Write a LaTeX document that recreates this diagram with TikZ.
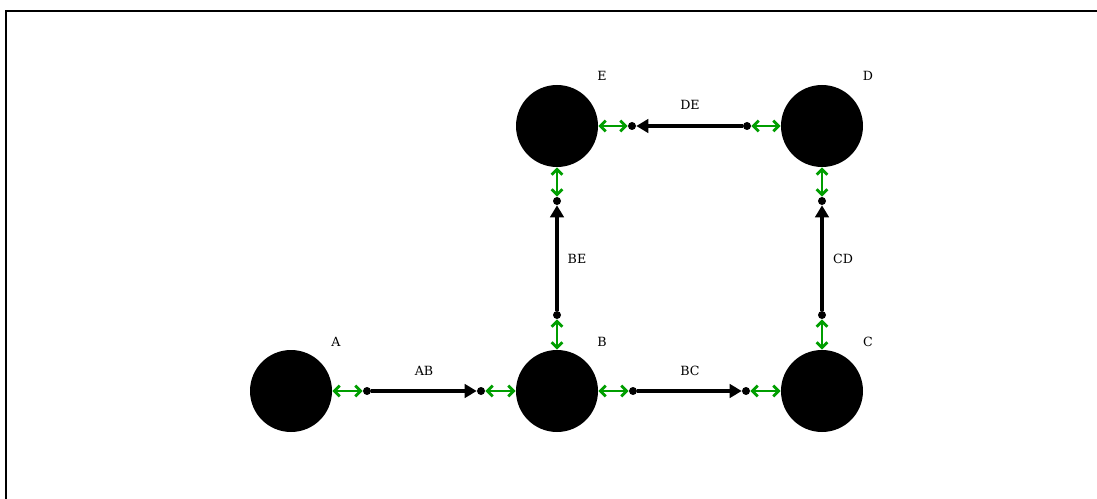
\documentclass[tikz,border=0pt]{standalone}
\usepackage{tikz}
\usepackage{fontspec}
\setmainfont{DejaVu Serif}
\usetikzlibrary{arrows.meta,positioning,calc}
\definecolor{linkgreen}{RGB}{0,158,0}
\tikzset{
    station/.style={circle, fill=black, minimum size=61.5pt, inner sep=0pt},
    port/.style={circle, fill=black, minimum size=6pt, inner sep=0pt},
    tag/.style={font=\fontsize{9.5}{11}\selectfont, inner sep=1pt},
    link/.style={line width=3.3pt, -{Triangle[length=9pt,width=10pt]}},
    bond/.style={draw=linkgreen, line width=2.2pt,
                 {Straight Barb[length=4pt,width=8pt]}-{Straight Barb[length=4pt,width=8pt]}},
}

\begin{document}
\begin{tikzpicture}[x=0.75pt, y=-0.75pt]
    \useasboundingbox (0,0) rectangle (1097,499);
    \draw[line width=1pt] (6,499) -- (6,11) -- (1097,11);

    % stations
    \node[station] (A) at (291,391) {};
    \node[station] (B) at (557,391) {};
    \node[station] (C) at (822,391) {};
    \node[station] (D) at (822,126) {};
    \node[station] (E) at (557,126) {};
    \node[tag] (tA) at (336,342) {A};
    \node[tag] (tB) at (602,342) {B};
    \node[tag] (tC) at (868,342) {C};
    \node[tag] (tD) at (868,76) {D};
    \node[tag] (tE) at (602,76) {E};

    % ports
    \node[port] (ab1) at (367,391) {};
    \node[port] (ab2) at (481,391) {};
    \node[port] (bc1) at (633,391) {};
    \node[port] (bc2) at (746,391) {};
    \node[port] (be1) at (557,315) {};
    \node[port] (be2) at (557,201) {};
    \node[port] (cd1) at (822,315) {};
    \node[port] (cd2) at (822,201) {};
    \node[port] (de1) at (747,126) {};
    \node[port] (de2) at (632,126) {};

    % links
    \draw[link] (ab1) -- (ab2);
    \draw[link] (bc1) -- (bc2);
    \draw[link] (be1) -- (be2);
    \draw[link] (cd1) -- (cd2);
    \draw[link] (de1) -- (de2);
    \node[tag] (tAB) at (424,371) {AB};
    \node[tag] (tBC) at (690,371) {BC};
    \node[tag] (tBE) at (577,259) {BE};
    \node[tag] (tCD) at (843,259) {CD};
    \node[tag] (tDE) at (690,105) {DE};

    % bonds
    \draw[bond] (A) -- (ab1);
    \draw[bond] (ab2) -- (B);
    \draw[bond] (B) -- (bc1);
    \draw[bond] (bc2) -- (C);
    \draw[bond] (B) -- (be1);
    \draw[bond] (be2) -- (E);
    \draw[bond] (C) -- (cd1);
    \draw[bond] (cd2) -- (D);
    \draw[bond] (D) -- (de1);
    \draw[bond] (de2) -- (E);
\end{tikzpicture}
\end{document}
